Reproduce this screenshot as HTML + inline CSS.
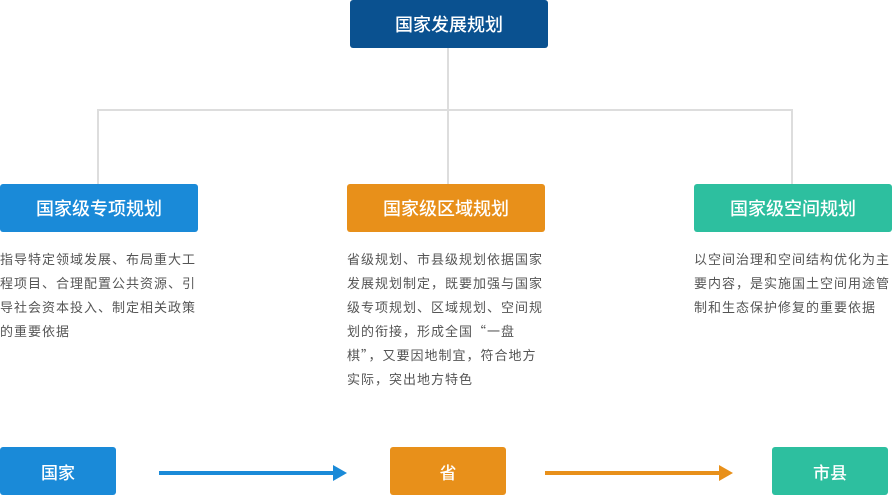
<!DOCTYPE html><html><head><meta charset="utf-8"><style>
body{margin:0;width:892px;height:496px;position:relative;background:#fff;font-family:"Noto Sans CJK SC",sans-serif;overflow:hidden}
.b{position:absolute;color:#fff;display:flex;align-items:center;justify-content:center;border-radius:3px;font-size:18px;font-weight:500}
.l{position:absolute;background:#ddd}
.t{position:absolute;font-size:13px;line-height:24px;color:#555;width:200px;letter-spacing:1px}
</style></head><body>
<div class="l" style="left:447px;top:48px;width:2px;height:62px"></div>
<div class="l" style="left:97px;top:109px;width:696px;height:2px"></div>
<div class="l" style="left:97px;top:109px;width:2px;height:75px"></div>
<div class="l" style="left:447px;top:109px;width:2px;height:75px"></div>
<div class="l" style="left:791px;top:109px;width:2px;height:75px"></div>
<div class="b" style="left:350px;top:0;width:198px;height:48px;background:#0a5190">国家发展规划</div>
<div class="b" style="left:0;top:184px;width:198px;height:48px;background:#1a8ad8">国家级专项规划</div>
<div class="b" style="left:347px;top:184px;width:198px;height:48px;background:#e8901a">国家级区域规划</div>
<div class="b" style="left:694px;top:184px;width:198px;height:48px;background:#2dbf9f">国家级空间规划</div>
<div class="t" style="left:0;top:247px">指导特定领域发展、布局重大工<br>程项目、合理配置公共资源、引<br>导社会资本投入、制定相关政策<br>的重要依据</div>
<div class="t" style="left:347px;top:247px">省级规划、市县级规划依据国家<br>发展规划制定，既要加强与国家<br>级专项规划、区域规划、空间规<br>划的衔接，形成全国“一盘<br>棋”，又要因地制宜，符合地方<br>实际，突出地方特色</div>
<div class="t" style="left:694px;top:247px">以空间治理和空间结构优化为主<br>要内容，是实施国土空间用途管<br>制和生态保护修复的重要依据</div>
<div class="b" style="left:0;top:447px;width:116px;height:48px;background:#1a8ad8;font-size:17px">国家</div>
<div class="b" style="left:390px;top:447px;width:116px;height:48px;background:#e8901a;font-size:17px">省</div>
<div class="b" style="left:772px;top:447px;width:116px;height:48px;background:#2dbf9f;font-size:17px">市县</div>
<svg style="position:absolute;left:0;top:0" width="892" height="496">
<line x1="159" y1="473" x2="335" y2="473" stroke="#1a8ad8" stroke-width="4"/>
<polygon points="333,465 347,473 333,481" fill="#1a8ad8"/>
<line x1="545" y1="473" x2="721" y2="473" stroke="#e8901a" stroke-width="4"/>
<polygon points="719,465 733,473 719,481" fill="#e8901a"/>
</svg>
</body></html>
